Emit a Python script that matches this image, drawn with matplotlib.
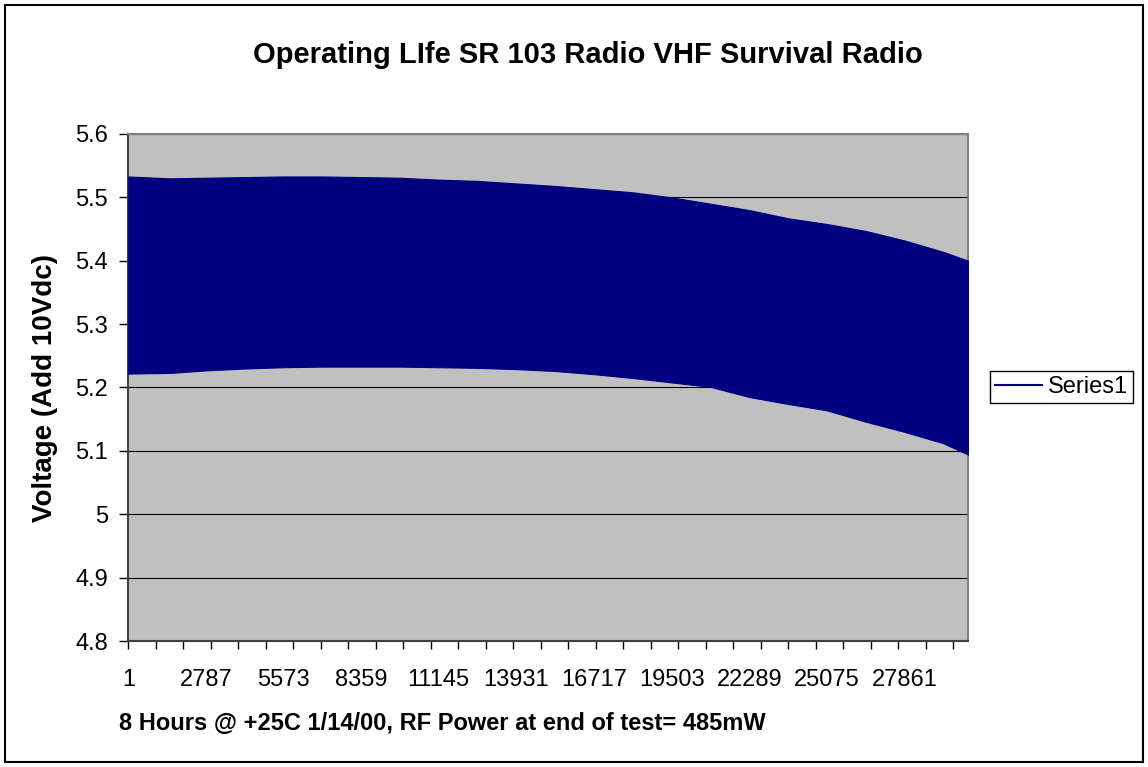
import matplotlib
matplotlib.use("Agg")
import matplotlib.pyplot as plt
from matplotlib.lines import Line2D
from matplotlib.patches import Rectangle

plt.rcParams['font.family'] = ['Liberation Sans', 'DejaVu Sans']

# sample index (1 sample / second) and the envelope
sample_idx = [1, 1500, 2787, 4180, 5573, 6966, 8359, 9752, 11145, 12538,
              13931, 15324, 16717, 18110, 19503, 20896, 22289, 23682,
              25075, 26468, 27861, 29254, 30150]
volt_high = [5.533, 5.530, 5.531, 5.532, 5.533, 5.533, 5.532, 5.531, 5.528,
             5.526, 5.522, 5.518, 5.513, 5.508, 5.500, 5.490, 5.480, 5.467,
             5.458, 5.447, 5.432, 5.414, 5.400]
volt_low = [5.222, 5.223, 5.227, 5.230, 5.232, 5.233, 5.233, 5.233, 5.232,
            5.231, 5.229, 5.226, 5.221, 5.215, 5.208, 5.201, 5.185, 5.174,
            5.164, 5.146, 5.130, 5.112, 5.094]

n_samples = 30150
label_step = 2786
tick_step = 987
y_ticks = [4.8, 4.9, 5.0, 5.1, 5.2, 5.3, 5.4, 5.5, 5.6]
y_ticklabels = ['4.8', '4.9', '5', '5.1', '5.2', '5.3', '5.4', '5.5', '5.6']

navy = '#000080'

fig = plt.figure(figsize=(11.48, 7.67), dpi=100)
fig.patches.append(Rectangle((5 / 1148, 5 / 767), 1138 / 1148, 757 / 767,
                             transform=fig.transFigure, fill=False,
                             edgecolor='black', linewidth=1.5))
ax = fig.add_axes([128.3 / 1148, 1 - 641 / 767, 840 / 1148, 507 / 767])
ax.set_facecolor('#c0c0c0')

ax.fill_between(sample_idx, volt_low, volt_high, color=navy, lw=0.8,
                edgecolor=navy, zorder=3)

ax.set_xlim(0, n_samples)
ax.set_ylim(4.8, 5.6)
ax.set_yticks(y_ticks, y_ticklabels)
ax.yaxis.grid(True, color='black', linewidth=0.8)
ax.set_axisbelow(True)

tick_pos = list(range(0, n_samples, tick_step))
ax.set_xticks(tick_pos, [''] * len(tick_pos))
label_pos = list(range(1, 27862, label_step))
ax.set_xticks(label_pos, [str(v) for v in label_pos], minor=True)
ax.tick_params(axis='x', which='major', length=6, width=1, direction='out')
ax.tick_params(axis='x', which='minor', length=0, pad=20, labelsize=17)
ax.tick_params(axis='y', length=6.5, width=1, labelsize=17, pad=8)

for side in ['top', 'right']:
    ax.spines[side].set_color('#808080')
    ax.spines[side].set_linewidth(1.5)
for side in ['left', 'bottom']:
    ax.spines[side].set_color('#404040')
    ax.spines[side].set_linewidth(1.5)

fig.text(588 / 1148, 1 - 55 / 767, 'Operating LIfe SR 103 Radio VHF Survival Radio',
         ha='center', va='center', fontsize=21, fontweight='bold')
fig.text(442 / 1148, 1 - 723 / 767,
         '8 Hours @ +25C 1/14/00, RF Power at end of test= 485mW',
         ha='center', va='center', fontsize=17, fontweight='bold')
fig.text(45 / 1148, 1 - 388 / 767, 'Voltage (Add 10Vdc)', rotation=90,
         ha='center', va='center', fontsize=20, fontweight='bold')

handle = Line2D([], [], color=navy, linewidth=1.5)
fig.legend([handle], ['Series1'], loc='center left',
           bbox_to_anchor=(990 / 1148, 1 - 387 / 767), fontsize=17,
           frameon=True, fancybox=False, edgecolor='black', framealpha=1,
           handlelength=2.0, handletextpad=0.25, borderpad=0.2,
           borderaxespad=0)

fig.savefig('out.png', dpi=100)
